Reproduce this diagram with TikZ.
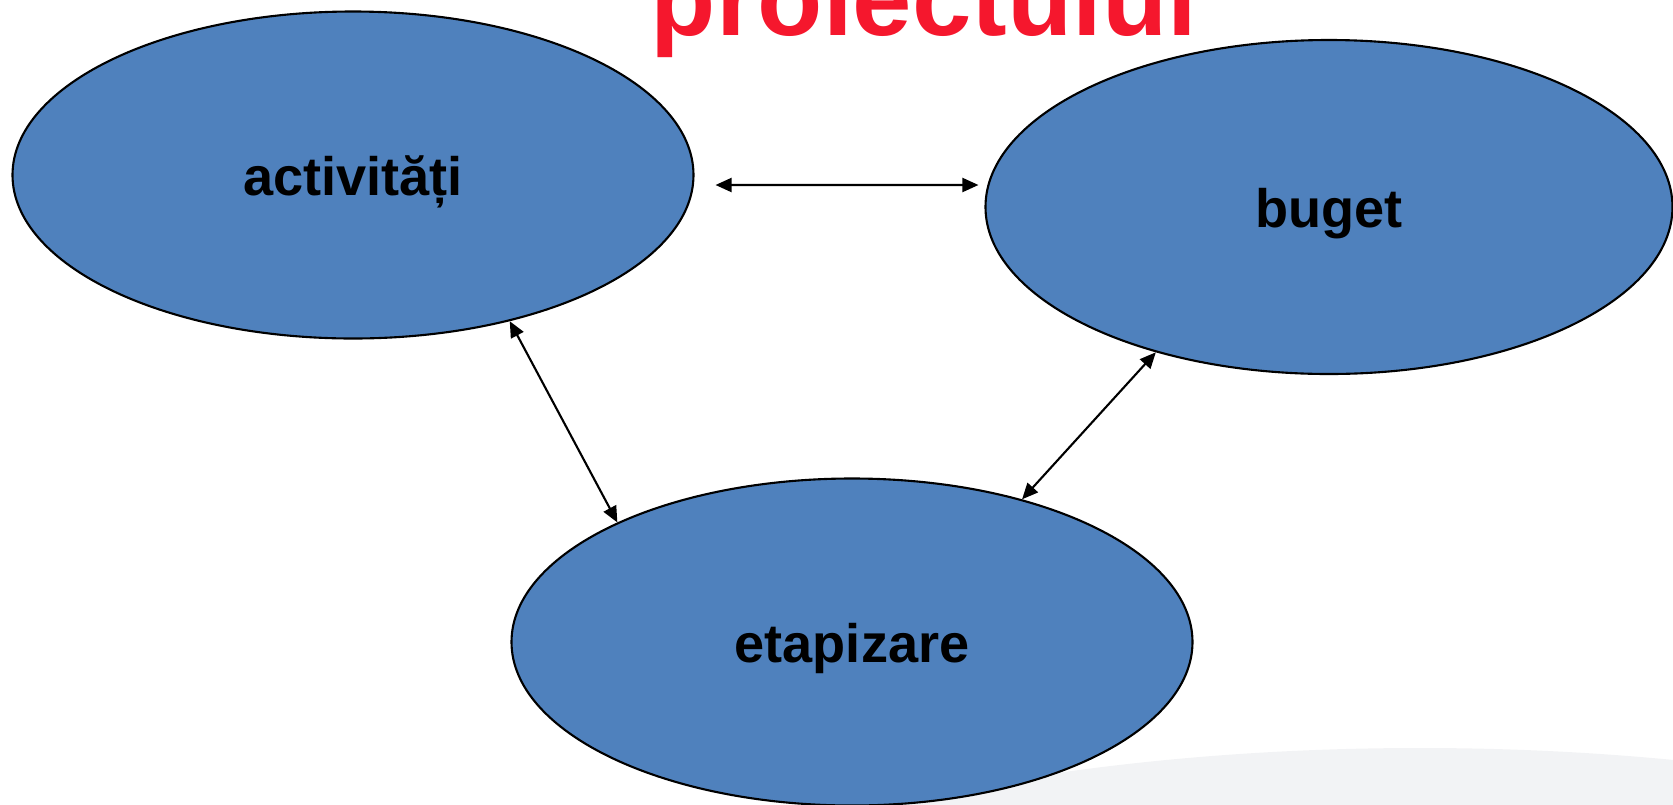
\documentclass[tikz,border=0pt]{standalone}
\usepackage{fontspec}
\setmainfont{Liberation Sans}
\usetikzlibrary{shapes.geometric,arrows.meta}
\definecolor{boxblue}{HTML}{4F81BD}
\definecolor{titlered}{HTML}{F5172D}
\definecolor{bggray}{HTML}{F2F3F5}
\begin{document}
\begin{tikzpicture}[
    blob/.style={draw, fill=boxblue, ellipse, line width=0.6pt, inner sep=0pt,
        minimum width=6.81cm, minimum height=3.27cm,
        font=\fontsize{15.4}{18}\selectfont\bfseries, text height=0.5cm, text depth=0.1cm},
    link/.style={{Triangle[length=0.16cm,width=0.14cm]}-{Triangle[length=0.16cm,width=0.14cm]}, line width=0.6pt}]
    \useasboundingbox (0,0) rectangle (16.73,8.04);
    \begin{scope}
        \clip (0,0) rectangle (16.73,8.04);
        \fill[bggray] (14.2,-3.13) ellipse (10 and 3.69);
    \end{scope}

    \node[text=titlered, font=\fontsize{30.4}{36}\selectfont\bfseries, anchor=base] (title) at (9.24,7.69) {proiectului};

    \node[blob] (act) at (3.53,6.29) {activități};
    \node[blob, minimum width=6.87cm, minimum height=3.34cm] (bug) at (13.29,5.97) {buget};
    \node[blob] (eta) at (8.52,1.62) {etapizare};

    \draw[link] ([shift={(0.21,-0.10)}]act.east) to ([shift={(-0.06,0.22)}]bug.west);
    \draw[link] (act.-43) to (eta.153);
    \draw[link] (bug.-140) to (eta.40);
\end{tikzpicture}
\end{document}
